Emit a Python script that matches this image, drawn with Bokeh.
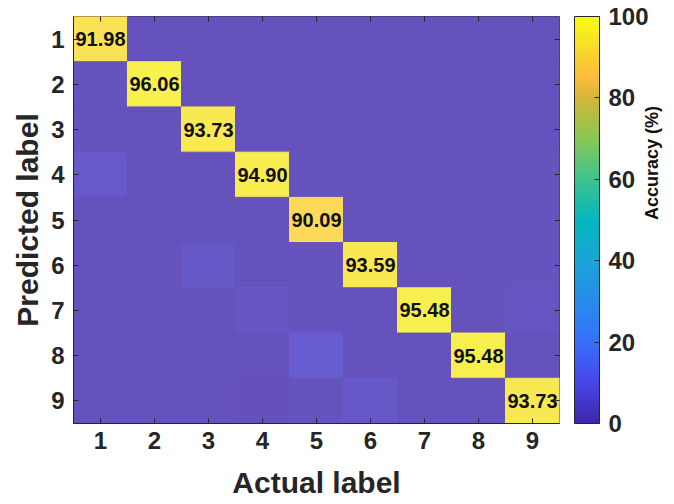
import numpy as np
from bokeh.plotting import figure
from bokeh.models import (ColumnDataSource, LinearColorMapper, ColorBar, FixedTicker,
                          Range1d, LinearAxis)
from bokeh.transform import transform
from bokeh.core.properties import value
from bokeh.embed import file_html
from bokeh.resources import INLINE

# ---- data ----
labels = ["1", "2", "3", "4", "5", "6", "7", "8", "9"]
# rows: predicted label 1..9 ; columns: actual label 1..9 (accuracy %)
pred_1 = [91.98, 0.50, 0.50, 0.40, 0.60, 0.50, 0.50, 0.50, 0.50]
pred_2 = [0.80, 96.06, 0.40, 0.40, 0.50, 0.40, 0.40, 0.60, 0.60]
pred_3 = [0.90, 0.60, 93.73, 0.50, 0.60, 0.50, 0.50, 0.50, 0.60]
pred_4 = [3.50, 0.60, 0.60, 94.90, 0.80, 0.60, 0.50, 0.60, 0.80]
pred_5 = [0.60, 0.50, 0.70, 0.50, 90.09, 0.50, 0.90, 0.70, 0.90]
pred_6 = [0.50, 0.40, 2.50, 0.60, 0.90, 93.59, 0.60, 0.60, 1.00]
pred_7 = [0.70, 0.50, 0.60, 2.00, 0.90, 0.60, 95.48, 0.50, 1.20]
pred_8 = [0.50, 0.40, 0.50, 0.40, 4.50, 0.50, 0.50, 95.48, 0.67]
pred_9 = [0.50, 0.44, 0.47, 0.30, 1.11, 2.81, 0.62, 0.52, 93.73]
matrix = [pred_1, pred_2, pred_3, pred_4, pred_5, pred_6, pred_7, pred_8, pred_9]
cbar_ticks = [0, 20, 40, 60, 80, 100]

# ---- parula-like palette (style) ----
stops = [(0.00, (62, 38, 168)), (0.10, (72, 70, 235)), (0.20, (56, 112, 250)),
         (0.30, (38, 140, 235)), (0.40, (26, 165, 215)), (0.50, (5, 183, 190)),
         (0.60, (60, 196, 142)), (0.70, (135, 199, 85)), (0.80, (212, 183, 55)),
         (0.85, (250, 188, 60)), (0.90, (252, 207, 48)), (0.95, (245, 232, 36)),
         (1.00, (249, 251, 14))]
pos = np.array([s[0] for s in stops])
cols = np.array([s[1] for s in stops], dtype=float)
t = np.linspace(0, 1, 256)
rgb = np.array([[np.interp(tt, pos, cols[:, k]) for k in range(3)] for tt in t])
palette = ["#%02x%02x%02x" % tuple(int(round(c)) for c in row) for row in rgb]
# cells are drawn at 80% opacity over white
rgb_cell = rgb * 0.8 + 255 * 0.2
palette_cell = ["#%02x%02x%02x" % tuple(int(round(c)) for c in row) for row in rgb_cell]

xs, ys, vals = [], [], []
dx, dy, dt = [], [], []
for r, row in enumerate(matrix):
    for c, v in enumerate(row):
        xs.append(c + 1)
        ys.append(r + 1)
        vals.append(v)
        if r == c:
            dx.append(c + 1)
            dy.append(r + 1)
            dt.append("%.2f" % v)
src = ColumnDataSource(dict(x=xs, y=ys, v=vals))
dsrc = ColumnDataSource(dict(x=dx, y=dy, t=dt))

mapper = LinearColorMapper(palette=palette, low=0, high=100)
mapper_cell = LinearColorMapper(palette=palette_cell, low=0, high=100)

FONT = "Liberation Sans"
TXT = "#262626"

p = figure(width=674, height=504, output_backend="svg", toolbar_location=None,
           x_range=Range1d(0.5, 9.5), y_range=Range1d(9.5, 0.5),
           min_border_left=73, min_border_top=16, min_border_right=114, min_border_bottom=81)
p.rect(x="x", y="y", width=1, height=1, source=src,
       fill_color=transform("v", mapper_cell), line_color=transform("v", mapper_cell),
       line_width=1)
p.text(x="x", y="y", text="t", source=dsrc, text_align="center", text_baseline="middle",
       text_font=value(FONT), text_font_style="bold", text_font_size="20px", text_color="#111111")

p.grid.visible = False
p.outline_line_color = TXT
p.outline_line_width = 1
p.background_fill_color = "white"
p.border_fill_color = "white"

tick_vals = list(range(1, 10))
for ax in (p.xaxis[0], p.yaxis[0]):
    ax.ticker = FixedTicker(ticks=tick_vals)
    ax.major_label_overrides = {i + 1: labels[i] for i in range(9)}
    ax.major_tick_in = 5
    ax.major_tick_out = 0
    ax.minor_tick_line_color = None
    ax.axis_line_color = TXT
    ax.major_tick_line_color = TXT
    ax.major_label_text_font = FONT
    ax.major_label_text_font_style = "bold"
    ax.major_label_text_font_size = "24px"
    ax.major_label_text_color = TXT
    ax.axis_label_text_font = FONT
    ax.axis_label_text_font_style = "bold"
    ax.axis_label_text_font_size = "30px"
    ax.axis_label_text_color = TXT
p.xaxis.axis_label = "Actual label"
p.yaxis.axis_label = "Predicted label"
p.xaxis.major_label_standoff = 8
p.xaxis.axis_label_standoff = 14
p.yaxis.major_label_standoff = 9
p.yaxis.axis_label_standoff = 4

for side in ("above", "right"):
    ax = LinearAxis(ticker=FixedTicker(ticks=tick_vals))
    ax.major_tick_in = 5
    ax.major_tick_out = 0
    ax.minor_tick_line_color = None
    ax.axis_line_color = None
    ax.major_tick_line_color = TXT
    ax.major_label_text_font_size = "0px"
    ax.major_label_text_color = None
    ax.major_label_standoff = 0
    p.add_layout(ax, side)

cb = ColorBar(color_mapper=mapper, ticker=FixedTicker(ticks=cbar_ticks), width=25,
              padding=0, margin=0, location=(15, 0),
              major_tick_in=5, major_tick_out=0, major_tick_line_color=TXT,
              minor_tick_line_color=None, bar_line_color=TXT, label_standoff=9,
              major_label_text_font=FONT, major_label_text_font_style="bold",
              major_label_text_font_size="24px", major_label_text_color=TXT,
              background_fill_color=None, border_line_color=None)
p.add_layout(cb, "right")

# colorbar title: an extra right-hand axis that shows only its label
tax = LinearAxis(ticker=FixedTicker(ticks=[]), axis_label="Accuracy (%)")
tax.axis_line_color = None
tax.major_tick_line_color = None
tax.minor_tick_line_color = None
tax.major_label_text_font_size = "0px"
tax.major_label_text_color = None
tax.major_label_standoff = 0
tax.axis_label_standoff = 0
tax.axis_label_text_font = FONT
tax.axis_label_text_font_style = "bold"
tax.axis_label_text_font_size = "18px"
tax.axis_label_text_color = "#111111"
if "axis_label_orientation" in LinearAxis.properties():
    tax.axis_label_orientation = np.pi / 2
p.add_layout(tax, "right")

open("out.html", "w").write(file_html(p, INLINE))
